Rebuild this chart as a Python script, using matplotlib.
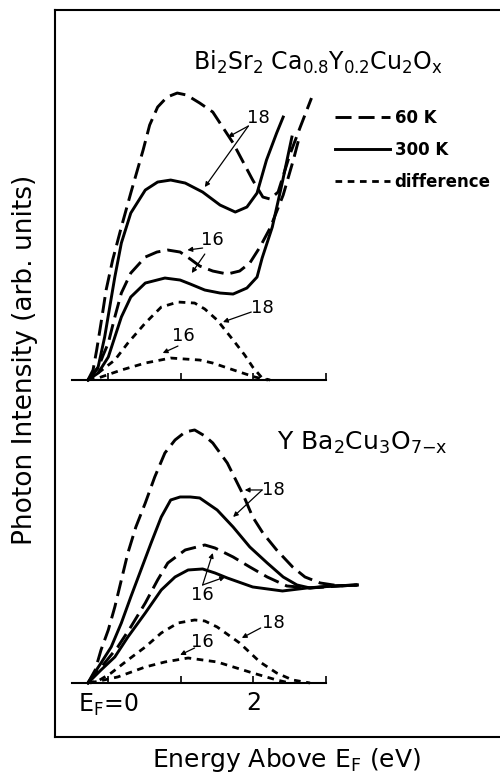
import matplotlib
matplotlib.use("Agg")
import matplotlib.pyplot as plt

plt.rcParams["font.family"] = ["DejaVu Sans"]
plt.rcParams["mathtext.default"] = "regular"

# ---- data: energy (eV) and intensity (arb. units) ----
# Bi2Sr2Ca0.8Y0.2Cu2Ox panel
bi_60k_18_e = [-0.28, -0.21, -0.16, -0.10, -0.03, 0.06, 0.18, 0.31, 0.48, 0.57, 0.68, 0.81,
               0.95, 1.08, 1.26, 1.44, 1.72, 1.99, 2.13, 2.23, 2.34, 2.50, 2.64, 2.80]
bi_60k_18_i = [0, 10, 30, 57, 90, 120, 153, 187, 230, 255, 273, 283,
               287, 285, 277, 268, 237, 200, 183, 181, 188, 225, 252, 282]
bi_300k_18_e = [-0.28, -0.14, -0.05, 0.02, 0.09, 0.18, 0.31, 0.51, 0.68, 0.86, 1.06, 1.30,
                1.54, 1.75, 1.91, 2.05, 2.18, 2.32, 2.41]
bi_300k_18_i = [0, 13, 43, 73, 103, 137, 167, 190, 198, 200, 197, 188,
                175, 168, 173, 187, 220, 247, 263]
bi_60k_16_e = [-0.28, -0.14, -0.07, 0.00, 0.09, 0.18, 0.31, 0.51, 0.67, 0.82, 0.99, 1.13,
               1.26, 1.44, 1.64, 1.81, 1.95, 2.09, 2.23, 2.41, 2.55, 2.64]
bi_60k_16_i = [0, 12, 25, 37, 63, 87, 107, 123, 128, 130, 128, 121,
               114, 109, 106, 109, 117, 133, 152, 185, 220, 245]
bi_300k_16_e = [-0.28, -0.14, 0.00, 0.09, 0.18, 0.31, 0.51, 0.78, 0.99, 1.13, 1.33, 1.54,
                1.72, 1.91, 2.05, 2.12, 2.26, 2.39, 2.53]
bi_300k_16_i = [0, 7, 23, 43, 63, 83, 97, 102, 100, 96, 90, 87,
                86, 92, 103, 122, 153, 195, 243]
bi_diff_18_e = [-0.28, -0.14, 0.09, 0.27, 0.51, 0.73, 0.96, 1.19, 1.33, 1.50, 1.72, 1.88,
                1.99, 2.12, 2.23]
bi_diff_18_i = [0, 7, 20, 37, 57, 73, 78, 77, 71, 60, 40, 25, 13, 2, 0]
bi_diff_16_e = [-0.28, -0.14, 0.18, 0.51, 0.86, 1.26, 1.44, 1.81, 2.02, 2.20]
bi_diff_16_i = [0, 2, 10, 17, 22, 20, 17, 8, 3, 0]

# YBa2Cu3O7-x panel
y_60k_18_e = [-0.28, -0.18, -0.10, 0.00, 0.09, 0.18, 0.27, 0.38, 0.51, 0.64, 0.78, 0.92,
              1.06, 1.19, 1.33, 1.44, 1.64, 1.86, 1.99, 2.13, 2.32, 2.54, 2.71, 2.92,
              3.19, 3.43]
y_60k_18_i = [0, 13, 33, 53, 76, 103, 130, 156, 180, 206, 230, 243,
              251, 253, 247, 240, 220, 188, 166, 150, 133, 116, 106, 100,
              97, 98]
y_300k_18_e = [-0.28, -0.10, 0.04, 0.18, 0.31, 0.45, 0.59, 0.73, 0.86, 0.99, 1.13, 1.26,
               1.50, 1.72, 1.95, 2.19, 2.41, 2.60, 2.78, 3.10, 3.43]
y_300k_18_i = [0, 20, 36, 60, 86, 113, 140, 166, 183, 186, 186, 185,
               173, 156, 136, 120, 106, 98, 95, 97, 98]
y_60k_16_e = [-0.28, -0.05, 0.13, 0.31, 0.51, 0.68, 0.82, 1.06, 1.33, 1.47, 1.72, 1.95,
              2.19, 2.46, 2.78, 3.19, 3.43]
y_60k_16_i = [0, 20, 36, 56, 80, 103, 120, 133, 138, 135, 126, 116,
              106, 97, 95, 97, 98]
y_300k_16_e = [-0.28, -0.10, 0.09, 0.27, 0.51, 0.73, 0.92, 1.10, 1.30, 1.47, 1.64, 1.99,
               2.40, 2.74, 3.10, 3.43]
y_300k_16_i = [0, 13, 26, 46, 70, 93, 106, 113, 114, 110, 105, 96,
               92, 95, 97, 98]
y_diff_18_e = [-0.28, -0.14, 0.04, 0.27, 0.51, 0.73, 0.96, 1.19, 1.33, 1.50, 1.81, 2.09,
               2.32, 2.54, 2.78]
y_diff_18_i = [0, 2, 10, 23, 36, 50, 60, 63, 62, 56, 40, 21, 10, 3, 0]
y_diff_16_e = [-0.25, 0.13, 0.51, 0.78, 1.10, 1.50, 1.99, 2.32, 2.50]
y_diff_16_i = [0, 6, 16, 21, 25, 21, 10, 3, 0]

tick_pos = [0, 1, 2, 3]
tick_labels = ["E$_F$=0", "", "2", ""]

LONG = dict(color="black", lw=2.1, dashes=(5.5, 2.4), clip_on=False,
            dash_joinstyle="round")
SOLID = dict(color="black", lw=2.1, clip_on=False, solid_joinstyle="round")
SHORT = dict(color="black", lw=2.0, dashes=(2.4, 2.0), clip_on=False,
             dash_joinstyle="round")
ARROW = dict(arrowstyle="-|>", color="black", lw=0.9, mutation_scale=7,
             shrinkA=0, shrinkB=0)

fig = plt.figure(figsize=(5, 7.74), dpi=100)

# outer frame (right side runs off the page)
frame = fig.add_axes([0.11, 0.0478, 0.95, 0.9393])
frame.set_xticks([])
frame.set_yticks([])
for s in frame.spines.values():
    s.set_linewidth(1.5)
frame.patch.set_alpha(0)


def setup_panel(ax, ymax):
    ax.set_xlim(-0.5, 3.0)
    ax.set_ylim(0, ymax)
    ax.patch.set_alpha(0)
    for side in ["top", "right", "left"]:
        ax.spines[side].set_visible(False)
    ax.spines["bottom"].set_linewidth(1.5)
    ax.set_yticks([])
    ax.set_xticks(tick_pos)
    ax.tick_params(axis="x", direction="in", length=5, width=1.2)


ax1 = fig.add_axes([0.144, 0.509, 0.508, 0.4651])
setup_panel(ax1, 360)
ax1.set_xticklabels([])

ax2 = fig.add_axes([0.144, 0.1176, 0.508, 0.3876])
setup_panel(ax2, 300)
ax2.set_xticklabels(tick_labels, fontsize=17)
ax2.tick_params(axis="x", pad=6)

h60, = ax1.plot(bi_60k_18_e, bi_60k_18_i, label="60 K", **LONG)
h300, = ax1.plot(bi_300k_18_e, bi_300k_18_i, label="300 K", **SOLID)
ax1.plot(bi_60k_16_e, bi_60k_16_i, **LONG)
ax1.plot(bi_300k_16_e, bi_300k_16_i, **SOLID)
hdiff, = ax1.plot(bi_diff_18_e, bi_diff_18_i, label="difference", **SHORT)
ax1.plot(bi_diff_16_e, bi_diff_16_i, **SHORT)

ax2.plot(y_60k_18_e, y_60k_18_i, **LONG)
ax2.plot(y_300k_18_e, y_300k_18_i, **SOLID)
ax2.plot(y_60k_16_e, y_60k_16_i, **LONG)
ax2.plot(y_300k_16_e, y_300k_16_i, **SOLID)
ax2.plot(y_diff_18_e, y_diff_18_i, **SHORT)
ax2.plot(y_diff_16_e, y_diff_16_i, **SHORT)

ax1.legend(handles=[h60, h300, hdiff], loc="upper left",
           bbox_to_anchor=(0.656, 0.868), bbox_transform=fig.transFigure,
           frameon=False, prop={"size": 12, "weight": "bold"},
           handlelength=3.3, handletextpad=0.3,
           labelspacing=0.85, borderaxespad=0)


def label(ax, text, pos, starts, targets):
    ax.text(pos[0], pos[1], text, fontsize=13, ha="center", va="center")
    for s, t in zip(starts, targets):
        ax.annotate("", xy=t, xytext=s, arrowprops=ARROW)


# annotations, Bi panel
label(ax1, "18", (2.07, 262), [(1.93, 254), (1.93, 254)], [(1.65, 243), (1.33, 193)])
label(ax1, "16", (1.43, 140), [(1.30, 132), (1.33, 126)], [(1.09, 130), (1.15, 107)])
label(ax1, "18", (2.12, 72), [(1.97, 68)], [(1.58, 58)])
label(ax1, "16", (1.03, 44), [(0.96, 34)], [(0.75, 27)])

# annotations, YBCO panel
label(ax2, "18", (2.27, 193), [(2.12, 193), (2.12, 193)], [(1.88, 193), (1.72, 166)])
label(ax2, "16", (1.29, 88), [(1.30, 98), (1.30, 98)], [(1.44, 130), (1.61, 106)])
label(ax2, "18", (2.27, 60), [(2.10, 55)], [(1.84, 45)])
label(ax2, "16", (1.29, 41), [(1.19, 35)], [(0.99, 28)])

fig.text(0.636, 1 - 62 / 774, "Bi$_2$Sr$_2$ Ca$_{0.8}$Y$_{0.2}$Cu$_2$O$_x$",
         fontsize=17, ha="center", va="center")
fig.text(0.724, 1 - 443 / 774, "Y Ba$_2$Cu$_3$O$_{7{-}x}$",
         fontsize=18, ha="center", va="center")
fig.text(0.05, 1 - 360 / 774, "Photon Intensity (arb. units)",
         fontsize=19, rotation=90, ha="center", va="center")
fig.text(0.572, 1 - 760 / 774, "Energy Above E$_F$ (eV)",
         fontsize=18, ha="center", va="center")

fig.savefig("out.png", dpi=100)
